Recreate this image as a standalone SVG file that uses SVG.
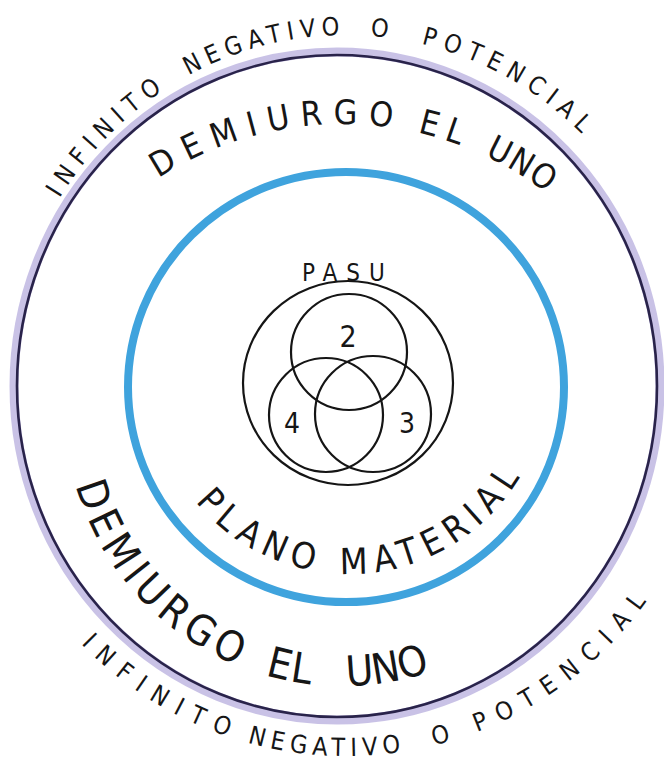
<svg xmlns="http://www.w3.org/2000/svg" width="664" height="764" viewBox="0 0 664 764">
  <style>
    .ink { fill: none; stroke: #151515; stroke-width: 2.2; }
    .lbl { fill: #161616; font-family: "Liberation Sans Narrow", "DejaVu Sans Condensed", "Liberation Sans", sans-serif; }
    .outerTxt { font-size: 25px; }
    .demTop { font-size: 34px; }
    .demBot { font-size: 42px; }
    .plano { font-size: 36px; }
  </style>
  <defs>
    <path id="pTO1" d="M59.6,198.3 A340,354 0 0 1 194.8,71.9"/>
    <path id="pTO2" d="M188.5,75.3 A340,354 0 0 1 375.6,36.3"/>
    <path id="pTO3" d="M370.3,35.9 A340,354 0 0 1 416.7,42.7"/>
    <path id="pTO4" d="M421.3,43.8 A340,354 0 0 1 613.9,171"/>

    <path id="pTD1" d="M158.4,178.2 A338,338 0 0 1 420.3,133.2"/>
    <path id="pTD2" d="M417.5,132.5 A338,338 0 0 1 487,156.7"/>
    <path id="pTD3" d="M484.8,155.7 A338,338 0 0 1 573.4,215.6"/>

    <path id="pBD1" d="M75.7,485.3 A277,277 0 0 0 259.6,673.5"/>
    <path id="pBD2" d="M265.2,675.1 A277,277 0 0 0 334.3,685.9"/>
    <path id="pBD3" d="M346.8,686 A277,277 0 0 0 457.3,660.8"/>

    <path id="pPM1" d="M195.4,501.6 A199,199 0 0 0 330.3,573.1"/>
    <path id="pPM2" d="M340,573.8 A199,199 0 0 0 529.4,459.1"/>

    <path id="pBO1" d="M81,643.8 A369,369 0 0 0 258.6,745.5"/>
    <path id="pBO2" d="M247.4,742.6 A369,369 0 0 0 432.1,745.8"/>
    <path id="pBO3" d="M434,745.3 A369,369 0 0 0 484.2,729.1"/>
    <path id="pBO4" d="M477,732 A369,369 0 0 0 667.2,568.7"/>
  </defs>
  <rect width="664" height="764" fill="#ffffff"/>

  <g id="outer-ring">
    <ellipse cx="337" cy="386" rx="323" ry="334" fill="none" stroke="#9d90d2" stroke-width="9" opacity="0.55"/>
    <ellipse cx="337" cy="386" rx="320" ry="331" fill="none" stroke="#29234a" stroke-width="2.6"/>
  </g>

  <g id="blue-circle">
    <ellipse cx="346" cy="387" rx="218" ry="215" fill="none" stroke="#3fa3dd" stroke-width="8"/>
  </g>

  <g id="pasu-circle">
    <ellipse class="ink" cx="348" cy="383" rx="105" ry="102"/>
  </g>
  <g id="circle-2">
    <circle class="ink" cx="349" cy="352" r="58"/>
  </g>
  <g id="circle-4">
    <circle class="ink" cx="326" cy="415" r="57"/>
  </g>
  <g id="circle-3">
    <circle class="ink" cx="373" cy="414" r="58"/>
  </g>

  <g id="label-outer-top" class="lbl outerTxt">
    <text><textPath href="#pTO1" textLength="150" lengthAdjust="spacing">INFINITO</textPath></text>
    <text><textPath href="#pTO2" textLength="158" lengthAdjust="spacing">NEGATIVO</textPath></text>
    <text><textPath href="#pTO3">O</textPath></text>
    <text><textPath href="#pTO4" textLength="186" lengthAdjust="spacing">POTENCIAL</textPath></text>
  </g>

  <g id="label-demiurgo-top" class="lbl demTop">
    <text><textPath href="#pTD1" textLength="244" lengthAdjust="spacing">DEMIURGO</textPath></text>
    <text><textPath href="#pTD2" textLength="44" lengthAdjust="spacing">EL</textPath></text>
    <text><textPath href="#pTD3" textLength="72" lengthAdjust="spacing">UNO</textPath></text>
  </g>

  <g id="label-demiurgo-bottom" class="lbl demBot">
    <text><textPath href="#pBD1" textLength="250" lengthAdjust="spacing">DEMIURGO</textPath></text>
    <text><textPath href="#pBD2" textLength="46" lengthAdjust="spacing">EL</textPath></text>
    <text><textPath href="#pBD3" textLength="85" lengthAdjust="spacing">UNO</textPath></text>
  </g>

  <g id="label-plano-material" class="lbl plano">
    <text><textPath href="#pPM1" textLength="139" lengthAdjust="spacing">PLANO</textPath></text>
    <text><textPath href="#pPM2" textLength="214" lengthAdjust="spacing">MATERIAL</textPath></text>
  </g>

  <g id="label-outer-bottom" class="lbl outerTxt">
    <text><textPath href="#pBO1" textLength="175" lengthAdjust="spacing">INFINITO</textPath></text>
    <text><textPath href="#pBO2" textLength="155" lengthAdjust="spacing">NEGATIVO</textPath></text>
    <text><textPath href="#pBO3">O</textPath></text>
    <text><textPath href="#pBO4" textLength="217" lengthAdjust="spacing">POTENCIAL</textPath></text>
  </g>

  <g id="label-pasu" class="lbl">
    <text font-size="24" x="348" y="281" text-anchor="middle" letter-spacing="9">PASU</text>
  </g>
  <g id="label-numbers" class="lbl">
    <text font-size="30" x="348" y="347" text-anchor="middle">2</text>
    <text font-size="28" x="292" y="433" text-anchor="middle">4</text>
    <text font-size="28" x="407" y="433" text-anchor="middle">3</text>
  </g>
</svg>
